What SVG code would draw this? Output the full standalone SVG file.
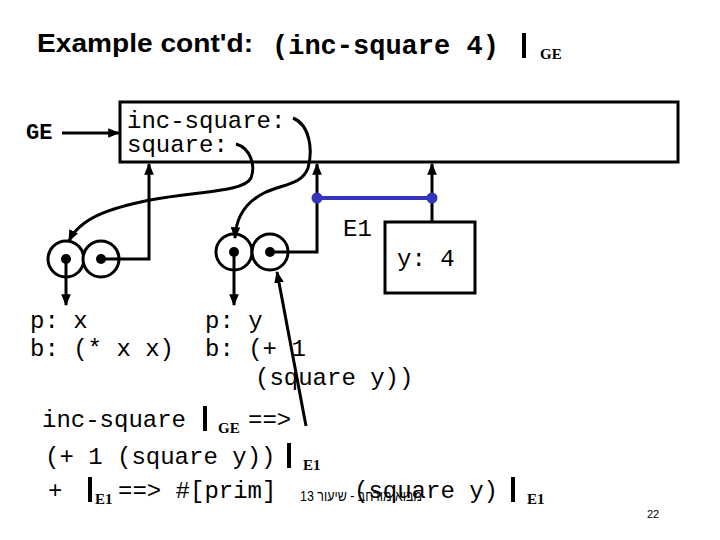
<svg xmlns="http://www.w3.org/2000/svg" width="720" height="540" viewBox="0 0 720 540">
<style>
.m{font-family:"Liberation Mono","Courier New",monospace;font-size:24px;fill:#000}
.mb{font-family:"Liberation Mono","Courier New",monospace;font-size:27px;font-weight:bold;fill:#000}
.s{font-family:"Liberation Serif","Times New Roman",serif;font-size:15px;font-weight:bold;fill:#000}
.t{font-family:"Liberation Sans",Arial,sans-serif;font-size:26px;font-weight:bold;fill:#000}
.bar{stroke:#000;stroke-width:4}
.ln{fill:none;stroke:#000;stroke-width:3}
.c{fill:#fff;stroke:#000;stroke-width:3}
.dot{fill:#000}
.box{fill:#fff;stroke:#000;stroke-width:3}
</style>
<defs>
<marker id="ah" viewBox="0 0 10 10" refX="9" refY="5" markerWidth="4" markerHeight="4" orient="auto" markerUnits="strokeWidth">
<path d="M0,1 L10,5 L0,9 z" fill="#000"/>
</marker>
</defs>
<rect width="720" height="540" fill="#fff"/>
<g id="title">
<text class="t" x="37" y="52" textLength="216" lengthAdjust="spacingAndGlyphs">Example cont'd:</text>
<text class="mb" x="272" y="54">(inc-square 4)</text>
<line class="bar" x1="524" y1="33" x2="524" y2="58"/>
<text class="s" x="540" y="59">GE</text>
</g>
<g id="GE-frame">
<rect class="box" x="120" y="102" width="558" height="60"/>
<text class="m" x="127" y="128">inc-square:</text>
<text class="m" x="127" y="152">square:</text>
</g>
<g id="GE-label">
<text x="26" y="139" style="font-family:'Liberation Mono','Courier New',monospace;font-size:22px;font-weight:bold;fill:#000">GE</text>
</g>
<g id="E1-frame">
<rect class="box" x="385" y="222" width="90" height="71"/>
<text class="m" x="397" y="266">y: 4</text>
<text class="m" x="343" y="236">E1</text>
</g>
<g id="proc-square">
<circle class="c" cx="66" cy="259" r="18"/>
<circle class="c" cx="101" cy="259" r="18"/>
<circle class="dot" cx="66" cy="259" r="5"/>
<circle class="dot" cx="101" cy="259" r="5"/>
<text class="m" x="30" y="328">p: x</text>
<text class="m" x="30" y="356">b: (* x x)</text>
</g>
<g id="proc-inc-square">
<circle class="c" cx="234" cy="252" r="18"/>
<circle class="c" cx="270" cy="252" r="18"/>
<circle class="dot" cx="234" cy="252" r="5"/>
<circle class="dot" cx="270" cy="252" r="5"/>
<text class="m" x="205" y="328">p: y</text>
<text class="m" x="205" y="356">b: (+ 1</text>
<text class="m" x="255" y="385">(square y))</text>
</g>
<g id="eval">
<text class="m" x="42" y="427">inc-square</text>
<line class="bar" x1="205" y1="406" x2="205" y2="431"/>
<text class="s" x="218" y="433">GE</text>
<text class="m" x="248" y="427">==&gt;</text>
<text class="m" x="45" y="464">(+ 1 (square y))</text>
<line class="bar" x1="289" y1="443" x2="289" y2="468"/>
<text class="s" x="303" y="470">E1</text>
<text class="m" x="48" y="498">+</text>
<line class="bar" x1="90" y1="477" x2="90" y2="502"/>
<text class="s" x="95" y="504">E1</text>
<text class="m" x="118" y="498">==&gt; #[prim]</text>
<text class="m" x="354" y="498">(square y)</text>
<line class="bar" x1="513" y1="477" x2="513" y2="502"/>
<text class="s" x="527" y="504">E1</text>
</g>
<g id="footer">
<text x="300" y="501" style="font-family:'Liberation Sans','Noto Sans',sans-serif;font-size:15px;fill:#000" textLength="122" lengthAdjust="spacingAndGlyphs">מבוא מורחב - שיעור 13</text>
<text x="647" y="518" style="font-family:'Liberation Sans',sans-serif;font-size:11px;fill:#000">22</text>
</g>
<g id="connectors">
<line class="ln" x1="62" y1="133" x2="119" y2="133" marker-end="url(#ah)"/>
<path class="ln" d="M293,118 C310,125 313,150 308,168 C302,185 282,184 264,193 C246,202 236,216 235,238" marker-end="url(#ah)"/>
<path class="ln" d="M236,144 C250,148 256,165 251,178 C244,192 200,191 150,200 C110,208 80,218 69,241" marker-end="url(#ah)"/>
<line class="ln" x1="66" y1="259" x2="66" y2="305" marker-end="url(#ah)"/>
<polyline class="ln" points="101,259 149,259 149,164" marker-end="url(#ah)"/>
<line class="ln" x1="234" y1="252" x2="234" y2="305" marker-end="url(#ah)"/>
<polyline class="ln" points="270,252 317,252 317,164" marker-end="url(#ah)"/>
<line class="ln" x1="432" y1="222" x2="432" y2="164" marker-end="url(#ah)"/>
<line x1="317" y1="198" x2="432" y2="198" stroke="#3333BB" stroke-width="4"/>
<circle cx="317" cy="198" r="5.5" fill="#3333BB"/>
<circle cx="432" cy="198" r="5.5" fill="#3333BB"/>
<line class="ln" x1="306" y1="426" x2="277" y2="272" marker-end="url(#ah)"/>
</g>
</svg>
